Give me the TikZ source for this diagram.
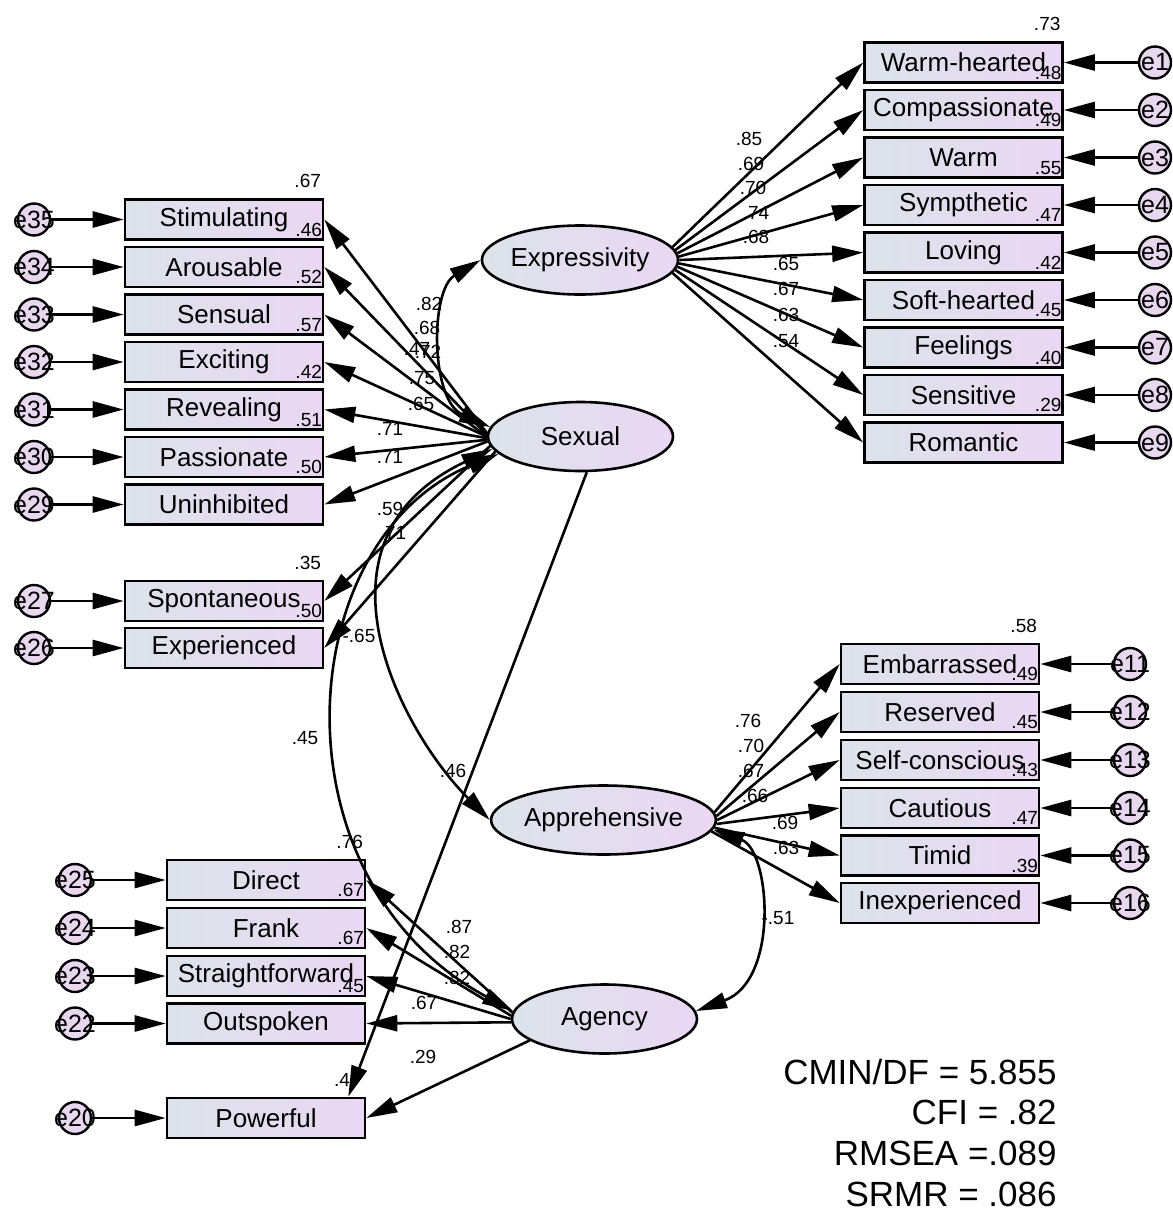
\documentclass[tikz,border=0pt]{standalone}
\usepackage{fontspec}
\setmainfont{Liberation Sans}
\usetikzlibrary{arrows.meta,shapes.geometric}
\definecolor{boxL}{HTML}{DCE3EA}
\definecolor{boxR}{HTML}{EAD7F3}
\definecolor{errF}{HTML}{E8D8EF}
\begin{document}
\begin{tikzpicture}[x=0.5pt,y=-0.5pt,
  obs/.style={draw, rectangle, line width=1.3pt, minimum width=99pt, minimum height=20pt, inner sep=0pt,
    left color=boxL, right color=boxR, font=\fontsize{13}{15}\selectfont},
  lat/.style={draw, ellipse, line width=1.3pt, minimum width=92.5pt, minimum height=34.5pt, inner sep=0pt,
    left color=boxL, right color=boxR, font=\fontsize{13}{15}\selectfont},
  errc/.style={draw, circle, line width=1.2pt, minimum size=16pt, inner sep=0pt, fill=errF},
  errt/.style={inner sep=0pt, font=\fontsize{12.5}{14}\selectfont},
  num/.style={inner sep=0pt, font=\fontsize{9.5}{11}\selectfont},
  rsq/.style={inner sep=0pt, anchor=south east, font=\fontsize{9.5}{11}\selectfont},
  fit/.style={inner sep=0pt, anchor=base east, font=\fontsize{17.5}{20}\selectfont},
  arr/.style={line width=1.3pt, -{Triangle[length=15.5pt,width=8pt]}},
  cor/.style={line width=1.3pt, {Triangle[length=15.5pt,width=8pt]}-{Triangle[length=15.5pt,width=8pt]}}
]
\useasboundingbox (0,0) rectangle (1173,1211);

% ---------- latent variables ----------
\node[lat] (EXP) at (580,260) {Expressivity};
\node[lat] (SEX) at (580.5,436.5) {Sexual};
\node[lat] (APP) at (603.5,820) {Apprehensive};
\node[lat] (AGE) at (604.5,1019) {Agency};

% ---------- Expressivity indicators ----------
\node[obs] (WH) at (963.5,62.5) {Warm-hearted};
\node[obs] (CP) at (963.5,110) {Compassionate};
\node[obs] (WM) at (963.5,157.5) {Warm};
\node[obs] (SY) at (963.5,205) {Sympthetic};
\node[obs] (LV) at (963.5,252.5) {Loving};
\node[obs] (SH) at (963.5,300) {Soft-hearted};
\node[obs] (FE) at (963.5,347.5) {Feelings};
\node[obs] (SE) at (963.5,395) {Sensitive};
\node[obs] (RO) at (963.5,442.5) {Romantic};
\node[errc] (e1) at (1155,62.5) {};  \node[errt] at (e1) {e1};
\node[errc] (e2) at (1155,110) {};   \node[errt] at (e2) {e2};
\node[errc] (e3) at (1155,157.5) {}; \node[errt] at (e3) {e3};
\node[errc] (e4) at (1155,205) {};   \node[errt] at (e4) {e4};
\node[errc] (e5) at (1155,252.5) {}; \node[errt] at (e5) {e5};
\node[errc] (e6) at (1155,300) {};   \node[errt] at (e6) {e6};
\node[errc] (e7) at (1155,347.5) {}; \node[errt] at (e7) {e7};
\node[errc] (e8) at (1155,395) {};   \node[errt] at (e8) {e8};
\node[errc] (e9) at (1155,442.5) {}; \node[errt] at (e9) {e9};

% ---------- Sexual indicators ----------
\node[obs] (ST) at (224,219.5) {Stimulating};
\node[obs] (AR) at (224,267) {Arousable};
\node[obs] (SN) at (224,314.5) {Sensual};
\node[obs] (EX) at (224,362) {Exciting};
\node[obs] (RV) at (224,409.5) {Revealing};
\node[obs] (PA) at (224,457) {Passionate};
\node[obs] (UN) at (224,504.5) {Uninhibited};
\node[obs] (SP) at (224,601) {Spontaneous};
\node[obs] (XP) at (224,648) {Experienced};
\node[errc] (e35) at (34,219.5) {}; \node[errt] at (e35) {e35};
\node[errc] (e34) at (34,267) {};   \node[errt] at (e34) {e34};
\node[errc] (e33) at (34,314.5) {}; \node[errt] at (e33) {e33};
\node[errc] (e32) at (34,362) {};   \node[errt] at (e32) {e32};
\node[errc] (e31) at (34,409.5) {}; \node[errt] at (e31) {e31};
\node[errc] (e30) at (34,457) {};   \node[errt] at (e30) {e30};
\node[errc] (e29) at (34,504.5) {}; \node[errt] at (e29) {e29};
\node[errc] (e27) at (34,601) {};   \node[errt] at (e27) {e27};
\node[errc] (e26) at (34,648) {};   \node[errt] at (e26) {e26};

% ---------- Apprehensive indicators ----------
\node[obs] (EM) at (940,664) {Embarrassed};
\node[obs] (RS) at (940,712) {Reserved};
\node[obs] (SC) at (940,760) {Self-conscious};
\node[obs] (CA) at (940,808) {Cautious};
\node[obs] (TI) at (940,855.5) {Timid};
\node[obs] (IN) at (940,903) {Inexperienced};
\node[errc] (e11) at (1130,664) {};   \node[errt] at (e11) {e11};
\node[errc] (e12) at (1130,712) {};   \node[errt] at (e12) {e12};
\node[errc] (e13) at (1130,760) {};   \node[errt] at (e13) {e13};
\node[errc] (e14) at (1130,808) {};   \node[errt] at (e14) {e14};
\node[errc] (e15) at (1130,855.5) {}; \node[errt] at (e15) {e15};
\node[errc] (e16) at (1130,903) {};   \node[errt] at (e16) {e16};

% ---------- Agency indicators ----------
\node[obs] (DI) at (266,880) {Direct};
\node[obs] (FR) at (266,928) {Frank};
\node[obs] (SF) at (266,976) {Straightforward};
\node[obs] (OS) at (266,1023.5) {Outspoken};
\node[obs] (PW) at (266,1118) {Powerful};
\node[errc] (e25) at (75,880) {};    \node[errt] at (e25) {e25};
\node[errc] (e24) at (75,928) {};    \node[errt] at (e24) {e24};
\node[errc] (e23) at (75,976) {};    \node[errt] at (e23) {e23};
\node[errc] (e22) at (75,1023.5) {}; \node[errt] at (e22) {e22};
\node[errc] (e20) at (75,1118) {};   \node[errt] at (e20) {e20};

% ---------- squared multiple correlations ----------
\node[rsq] at ([xshift=-1.5pt,yshift=5pt]WH.north east) {.73};
\node[rsq] at ([xshift=-1pt,yshift=2pt]WH.south east) {.48};
\node[rsq] at ([xshift=-1pt,yshift=2pt]CP.south east) {.49};
\node[rsq] at ([xshift=-1pt,yshift=2pt]WM.south east) {.55};
\node[rsq] at ([xshift=-1pt,yshift=2pt]SY.south east) {.47};
\node[rsq] at ([xshift=-1pt,yshift=2pt]LV.south east) {.42};
\node[rsq] at ([xshift=-1pt,yshift=2pt]SH.south east) {.45};
\node[rsq] at ([xshift=-1pt,yshift=2pt]FE.south east) {.40};
\node[rsq] at ([xshift=-1pt,yshift=2pt]SE.south east) {.29};

\node[rsq] at ([xshift=-1.5pt,yshift=5pt]ST.north east) {.67};
\node[rsq] at ([xshift=-1pt,yshift=2pt]ST.south east) {.46};
\node[rsq] at ([xshift=-1pt,yshift=2pt]AR.south east) {.52};
\node[rsq] at ([xshift=-1pt,yshift=2pt]SN.south east) {.57};
\node[rsq] at ([xshift=-1pt,yshift=2pt]EX.south east) {.42};
\node[rsq] at ([xshift=-1pt,yshift=2pt]RV.south east) {.51};
\node[rsq] at ([xshift=-1pt,yshift=2pt]PA.south east) {.50};
\node[rsq] at ([xshift=-1.5pt,yshift=5pt]SP.north east) {.35};
\node[rsq] at ([xshift=-1pt,yshift=2pt]SP.south east) {.50};

\node[rsq] at ([xshift=-1.5pt,yshift=5pt]EM.north east) {.58};
\node[rsq] at ([xshift=-1pt,yshift=2pt]EM.south east) {.49};
\node[rsq] at ([xshift=-1pt,yshift=2pt]RS.south east) {.45};
\node[rsq] at ([xshift=-1pt,yshift=2pt]SC.south east) {.43};
\node[rsq] at ([xshift=-1pt,yshift=2pt]CA.south east) {.47};
\node[rsq] at ([xshift=-1pt,yshift=2pt]TI.south east) {.39};

\node[rsq] at ([xshift=-1.5pt,yshift=5pt]DI.north east) {.76};
\node[rsq] at ([xshift=-1pt,yshift=2pt]DI.south east) {.67};
\node[rsq] at ([xshift=-1pt,yshift=2pt]FR.south east) {.67};
\node[rsq] at ([xshift=-1pt,yshift=2pt]SF.south east) {.45};
\node[num] at (342,1080) {.4};

% ---------- path coefficients ----------
\node[num] at (749,139) {.85};
\node[num] at (751,164) {.69};
\node[num] at (753,188) {.70};
\node[num] at (756,213) {.74};
\node[num] at (756,237) {.68};
\node[num] at (786,264) {.65};
\node[num] at (786,289) {.67};
\node[num] at (786,315) {.63};
\node[num] at (786,341) {.54};

\node[num] at (429,304) {.82};
\node[num] at (427,328) {.68};
\node[num] at (417,349) {.47};
\node[num] at (428,352) {.72};
\node[num] at (422,378) {.75};
\node[num] at (421,404) {.65};
\node[num] at (390,429) {.71};
\node[num] at (390,457) {.71};
\node[num] at (390,509) {.59};
\node[num] at (393,533) {.71};
\node[num] at (359,636) {-.65};

\node[num] at (305,738) {.45};
\node[num] at (453,771) {.46};
\node[num] at (778,918) {-.51};

\node[num] at (748,721) {.76};
\node[num] at (751,746) {.70};
\node[num] at (751,771) {.67};
\node[num] at (755,796) {.66};
\node[num] at (785,823) {.69};
\node[num] at (786,848) {.63};

\node[num] at (459,927) {.87};
\node[num] at (457,952) {.82};
\node[num] at (457,978) {.82};
\node[num] at (424,1003) {.67};
\node[num] at (423,1057) {.29};

% ---------- fit indices ----------
\node[fit] (f1) at (1057,1084) {CMIN/DF = 5.855};
\node[fit] (f2) at (1057,1124) {CFI = .82};
\node[fit] (f3) at (1057,1165) {RMSEA =.089};
\node[fit] (f4) at (1057,1206) {SRMR = .086};

% ---------- loadings ----------
\draw[arr] (EXP.8) -- (WH.west);
\draw[arr] (EXP.6) -- (CP.west);
\draw[arr] (EXP.4) -- (WM.west);
\draw[arr] (EXP.2) -- (SY.west);
\draw[arr] (EXP.0) -- (LV.west);
\draw[arr] (EXP.-2) -- (SH.west);
\draw[arr] (EXP.-4) -- (FE.west);
\draw[arr] (EXP.-6) -- (SE.west);
\draw[arr] (EXP.-8) -- (RO.west);

\draw[arr] (SEX.178) -- (ST.east);
\draw[arr] (SEX.179) -- (AR.east);
\draw[arr] (SEX.180) -- (SN.east);
\draw[arr] (SEX.180) -- (EX.east);
\draw[arr] (SEX.181) -- (RV.east);
\draw[arr] (SEX.182) -- (PA.east);
\draw[arr] (SEX.183) -- (UN.east);
\draw[arr] (SEX.186) -- (SP.east);
\draw[arr] (SEX.190) -- (XP.east);
\draw[arr] (SEX.-80) -- ([xshift=-9pt]PW.north east);

\draw[arr] (APP.4) -- (EM.west);
\draw[arr] (APP.2) -- (RS.west);
\draw[arr] (APP.0) -- (SC.west);
\draw[arr] (APP.-2) -- (CA.west);
\draw[arr] (APP.-4) -- (TI.west);
\draw[arr] (APP.-6) -- (IN.west);

\draw[arr] (AGE.176) -- (DI.east);
\draw[arr] (AGE.178) -- (FR.east);
\draw[arr] (AGE.180) -- (SF.east);
\draw[arr] (AGE.182) -- (OS.east);
\draw[arr] (AGE.196) -- (PW.east);

% ---------- errors ----------
\foreach \e/\b in {e1/WH,e2/CP,e3/WM,e4/SY,e5/LV,e6/SH,e7/FE,e8/SE,e9/RO}
  \draw[arr] (\e) -- (\b.east);
\foreach \e/\b in {e11/EM,e12/RS,e13/SC,e14/CA,e15/TI,e16/IN}
  \draw[arr] (\e) -- (\b.east);
\foreach \e/\b in {e35/ST,e34/AR,e33/SN,e32/EX,e31/RV,e30/PA,e29/UN,e27/SP,e26/XP}
  \draw[arr] (\e) -- (\b.west);
\foreach \e/\b in {e25/DI,e24/FR,e23/SF,e22/OS,e20/PW}
  \draw[arr] (\e) -- (\b.west);

% ---------- correlations ----------
\draw[cor] (SEX.174) .. controls (430,400) and (430,290) .. (EXP.west);
\draw[cor] (SEX.188) .. controls (300,540) and (400,730) .. (APP.west);
\draw[cor] (SEX.192) .. controls (290,540) and (270,880) .. (AGE.175);
\draw[cor] (APP.-5) .. controls (770,850) and (780,980) .. (AGE.5);
\end{tikzpicture}
\end{document}
